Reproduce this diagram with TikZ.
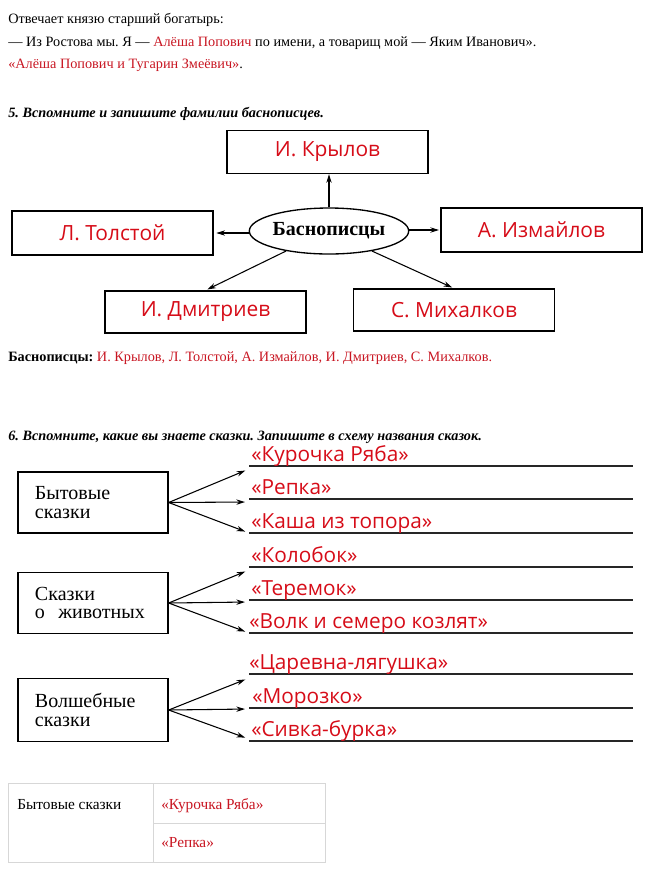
\documentclass[tikz,border=0pt]{standalone}
\usepackage{fontspec}
\setmainfont{Liberation Serif}
\newfontfamily\ansfont{Open Sans}
\usetikzlibrary{arrows.meta,shapes.geometric}
\definecolor{tred}{RGB}{200,22,34}
\definecolor{ared}{RGB}{214,12,24}
\definecolor{tblgray}{RGB}{215,215,215}
\frenchspacing
\begin{document}
\begin{tikzpicture}[x=0.75pt,y=-0.75pt,
  every node/.style={inner sep=0pt},
  body/.style={anchor=base west, font=\fontsize{10.7}{13}\selectfont},
  head/.style={anchor=base west, font=\bfseries\itshape\fontsize{10.7}{13}\selectfont},
  namebox/.style={draw, line width=1pt, minimum width={201*0.75pt}, minimum height={44*0.75pt},
    font=\ansfont\fontsize{15.7}{18}\selectfont, text=ared},
  kindbox/.style={draw, line width=1pt, minimum width={150*0.75pt}, minimum height={61*0.75pt},
    inner xsep={17*0.75pt}, text width={116*0.75pt}, align=left, font=\fontsize{15}{14}\selectfont},
  ans/.style={anchor=base west, font=\ansfont\fontsize{15.6}{18}\selectfont, text=ared},
  arr/.style={-{Stealth[length=6.5pt,width=4pt]}, line width=0.8pt},
  wline/.style={line width=0.8pt, black!85},
  tbl/.style={draw=tblgray, line width=0.6pt}
]
\useasboundingbox (0,0) rectangle (659,876);

% --- top text
\node[body] (p1) at (8,23) {Отвечает князю старший богатырь:};
\node[body] (p2) at (8,46) {— Из Ростова мы. Я — \textcolor{tred}{Алёша Попович} по имени, а товарищ мой — Яким Иванович».};
\node[body] (p3) at (8,68) {\textcolor{tred}{«Алёша Попович и Тугарин Змеёвич»}.};
\node[head] (h5) at (8,117) {5. Вспомните и запишите фамилии баснописцев.};

% --- diagram 5
\node[ellipse, draw, line width=1pt, minimum width={153*0.75pt}, minimum height={46*0.75pt},
  font=\bfseries\fontsize{15}{17}\selectfont] (ell) at (329,231) {Баснописцы};
\node[namebox, minimum height={43*0.75pt}] (kr) at (327.5,152) {И. Крылов};
\node[namebox] (tol) at (112.5,233) {Л. Толстой};
\node[namebox] (izm) at (541.5,230) {А. Измайлов};
\node[namebox, minimum height={42*0.75pt}] (dm) at (205.5,312) {И. Дмитриев};
\node[namebox, minimum height={42*0.75pt}] (mih) at (454,310) {С. Михалков};

\draw[arr] (ell.north) -- (ell.north |- kr.south);
\draw[arr, shorten >=2pt] (ell.west |- tol.east) -- (tol.east);
\draw[arr, shorten >=1pt] (ell.east |- izm.west) -- (izm.west);
\draw[arr, shorten >=1.5pt] (ell.205) -- (dm.north);
\draw[arr, shorten >=1.5pt] (ell.335) -- (mih.north);

\node[body] (sum) at (8,361) {\textbf{Баснописцы:} \textcolor{tred}{И. Крылов, Л. Толстой, А. Измайлов, И. Дмитриев, С. Михалков.}};

\node[head] (h6) at (8,440) {6. Вспомните, какие вы знаете сказки. Запишите в схему названия сказок.};

% --- diagram 6
\node[kindbox] (b1) at (93,502.5) {Бытовые\\сказки};
\node[kindbox] (b2) at (93,603) {Сказки\\о\hspace{10pt}животных};
\node[kindbox, minimum height={63*0.75pt}] (b3) at (93,710) {Волшебные\\сказки};

\foreach \n/\y in {1/466,2/499,3/533,4/567,5/600,6/633,7/674,8/708,9/741}{
  \coordinate (s\n) at (249,\y);
  \coordinate (e\n) at (633,\y);
  \draw[wline] (s\n) -- (e\n);
}
\coordinate (t1) at (249,469);
\coordinate (t2) at (249,502);
\coordinate (t3) at (249,533);
\coordinate (t4) at (249,570);
\coordinate (t5) at (249,602);
\coordinate (t6) at (249,633);
\coordinate (t7) at (249,678);
\coordinate (t8) at (249,709);
\coordinate (t9) at (249,739);

\draw[arr, shorten >=3pt] (b1.east) -- (t1);
\draw[arr, shorten >=3pt] (b1.east) -- (t2);
\draw[arr, shorten >=3pt] (b1.east) -- (t3);
\draw[arr, shorten >=3pt] (b2.east) -- (t4);
\draw[arr, shorten >=3pt] (b2.east) -- (t5);
\draw[arr, shorten >=3pt] (b2.east) -- (t6);
\draw[arr, shorten >=3pt] (b3.east) -- (t7);
\draw[arr, shorten >=3pt] (b3.east) -- (t8);
\draw[arr, shorten >=3pt] (b3.east) -- (t9);

\node[ans] (a1) at (251,461) {«Курочка Ряба»};
\node[ans] (a2) at (251,494) {«Репка»};
\node[ans] (a3) at (251,528) {«Каша из топора»};
\node[ans] (a4) at (251,562) {«Колобок»};
\node[ans] (a5) at (251,595) {«Теремок»};
\node[ans] (a6) at (249,628) {«Волк и семеро козлят»};
\node[ans] (a7) at (249,669) {«Царевна-лягушка»};
\node[ans] (a8) at (252,703) {«Морозко»};
\node[ans] (a9) at (251,736) {«Сивка-бурка»};

% --- bottom table
\draw[tbl] (8,783) rectangle (325,862);
\draw[tbl] (153,783) -- (153,862);
\draw[tbl] (153,823) -- (325,823);
\node[body, font=\fontsize{11.5}{13}\selectfont] (c1) at (17,809) {Бытовые сказки};
\node[body, font=\fontsize{11.5}{13}\selectfont, text=tred] (c2) at (161,809) {«Курочка Ряба»};
\node[body, font=\fontsize{11.5}{13}\selectfont, text=tred] (c3) at (161,847) {«Репка»};
\end{tikzpicture}
\end{document}
